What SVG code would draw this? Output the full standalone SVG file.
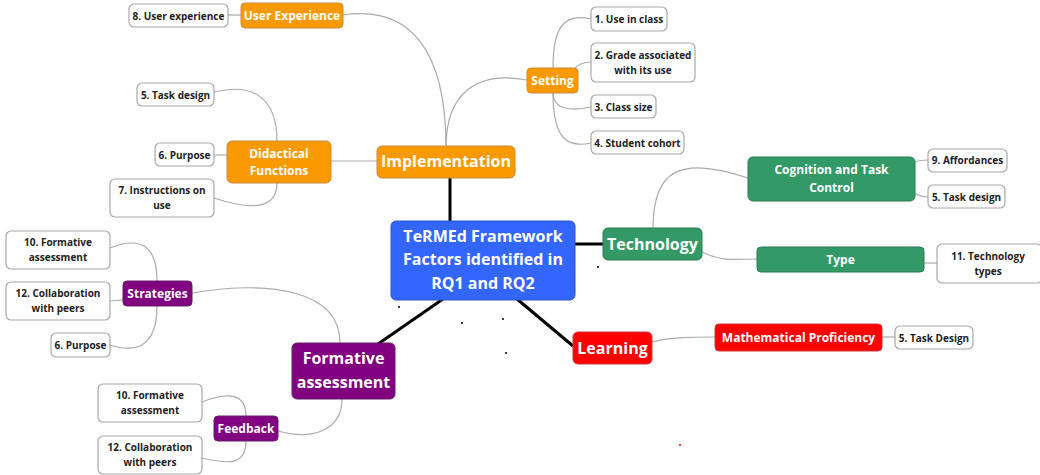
<svg xmlns="http://www.w3.org/2000/svg" width="1040" height="475" viewBox="0 0 1040 475">
<style>
text{font-family:"Open Sans","Noto Sans","DejaVu Sans",sans-serif;font-weight:bold;text-anchor:middle;dominant-baseline:central}
.leaf rect{fill:#fff;stroke:#a8a8a8;stroke-width:1.2}
.leaf text{fill:#222;font-size:10px}
.wt{fill:#fff}
.or{fill:#fa9a00;stroke:#c98a3a;stroke-width:1}
.gr{fill:#339966;stroke:#2a7d52;stroke-width:1}
.pu{fill:#800080;stroke:#6a1f6a;stroke-width:1}
.rd{fill:#ff0000;stroke:#c83a3a;stroke-width:1}
.bl{fill:#3366ff;stroke:#2d55c8;stroke-width:1}
.thin{fill:none;stroke:#ababab;stroke-width:1.2}
.thick{fill:none;stroke:#000;stroke-width:3}
</style>
<rect width="1040" height="475" fill="#fff"/>
<g id="connectors">
<path class="thick" d="M450,178 L450,221"/>
<path class="thick" d="M575,244 L603,244"/>
<path class="thick" d="M517,299 L573,346"/>
<path class="thick" d="M443,299 L378,344"/>
<path class="thin" d="M343,15 C410,5 446,50 446,147"/>
<path class="thin" d="M446,147 C446,95 475,70 527,80"/>
<path class="thin" d="M377,161 L331,161"/>
<path class="thin" d="M241,15 L228,15"/>
<path class="thin" d="M553,68 C553,30 562,12 591,19"/>
<path class="thin" d="M573,70 C578,64 583,62 591,62"/>
<path class="thin" d="M553,93 C553,108 568,112 591,107"/>
<path class="thin" d="M553,93 C553,140 568,148 591,143"/>
<path class="thin" d="M277,141 C277,100 255,82 214,92"/>
<path class="thin" d="M227,155 L214,155"/>
<path class="thin" d="M277,183 C277,210 250,210 214,198"/>
<path class="thin" d="M653,228 C653,170 680,155 748,178"/>
<path class="thin" d="M702,252 C722,262 735,259 757,259"/>
<path class="thin" d="M915,162 C920,160 923,160 928,160"/>
<path class="thin" d="M915,193 C920,196 923,197 928,197"/>
<path class="thin" d="M924,263 L937,263"/>
<path class="thin" d="M652,342 C672,337 690,337 715,337"/>
<path class="thin" d="M882,337 L895,337"/>
<path class="thin" d="M192,293 C270,280 340,290 340,343"/>
<path class="thin" d="M342,399 C342,432 310,440 278,431"/>
<path class="thin" d="M157,281 C157,245 140,236 110,248"/>
<path class="thin" d="M123,300 L110,301"/>
<path class="thin" d="M157,306 C157,348 135,353 110,345"/>
<path class="thin" d="M246,416 C246,393 228,392 202,402"/>
<path class="thin" d="M246,441 C246,466 228,464 202,458"/>
</g>
<g id="center"><rect class="bl" x="391" y="221" width="184" height="79" rx="5"/><text class="wt" x="483" y="236" font-size="16">TeRMEd Framework</text><text class="wt" x="483" y="259" font-size="16">Factors identified in</text><text class="wt" x="483" y="283" font-size="16">RQ1 and RQ2</text></g>
<g id="implementation"><rect class="or" x="377" y="146" width="138" height="32" rx="5"/><text class="wt" x="446" y="161" font-size="16">Implementation</text></g>
<g id="user-experience"><rect class="or" x="241" y="3" width="102" height="25" rx="4"/><text class="wt" x="292" y="15.5" font-size="12">User Experience</text></g>
<g id="ux8" class="leaf"><rect x="129" y="4" width="99" height="23" rx="5"/><text x="178.5" y="15.5">8. User experience</text></g>
<g id="didactical"><rect class="or" x="227" y="141" width="104" height="42" rx="5"/><text class="wt" x="279" y="153" font-size="12">Didactical</text><text class="wt" x="279" y="170" font-size="12">Functions</text></g>
<g id="d5" class="leaf"><rect x="137" y="83" width="77" height="23" rx="5"/><text x="175.5" y="94.5">5. Task design</text></g>
<g id="d6" class="leaf"><rect x="155" y="143" width="59" height="23" rx="5"/><text x="184.5" y="154.5">6. Purpose</text></g>
<g id="d7" class="leaf"><rect x="110" y="179" width="104" height="38" rx="5"/><text x="162" y="190">7. Instructions on</text><text x="162" y="205">use</text></g>
<g id="setting"><rect class="or" x="527" y="68" width="51" height="25" rx="4"/><text class="wt" x="552.5" y="80.5" font-size="12">Setting</text></g>
<g id="s1" class="leaf"><rect x="591" y="7" width="76" height="24" rx="5"/><text x="629" y="19">1. Use in class</text></g>
<g id="s2" class="leaf"><rect x="591" y="43" width="104" height="39" rx="5"/><text x="643" y="54.5">2. Grade associated</text><text x="643" y="70">with its use</text></g>
<g id="s3" class="leaf"><rect x="591" y="95" width="65" height="23" rx="5"/><text x="623.5" y="106.5">3. Class size</text></g>
<g id="s4" class="leaf"><rect x="591" y="131" width="93" height="23" rx="5"/><text x="637.5" y="142.5">4. Student cohort</text></g>
<g id="technology"><rect class="gr" x="603" y="228" width="99" height="32" rx="5"/><text class="wt" x="652.5" y="243.5" font-size="16">Technology</text></g>
<g id="cognition"><rect class="gr" x="748" y="157" width="167" height="44" rx="5"/><text class="wt" x="831.5" y="169.5" font-size="12">Cognition and Task</text><text class="wt" x="831.5" y="187" font-size="12">Control</text></g>
<g id="t9" class="leaf"><rect x="928" y="149" width="79" height="23" rx="5"/><text x="967.5" y="160">9. Affordances</text></g>
<g id="t5" class="leaf"><rect x="928" y="185" width="77" height="23" rx="5"/><text x="966.5" y="196.5">5. Task design</text></g>
<g id="type"><rect class="gr" x="757" y="247" width="167" height="25" rx="4"/><text class="wt" x="840.5" y="259" font-size="12">Type</text></g>
<g id="t11" class="leaf"><rect x="937" y="244" width="105" height="39" rx="5"/><text x="988" y="255.5">11. Technology</text><text x="988" y="270.5">types</text></g>
<g id="learning"><rect class="rd" x="573" y="332" width="79" height="32" rx="5"/><text class="wt" x="612.5" y="347.5" font-size="16">Learning</text></g>
<g id="math"><rect class="rd" x="715" y="324" width="167" height="27" rx="4"/><text class="wt" x="798.5" y="337" font-size="12">Mathematical Proficiency</text></g>
<g id="l5" class="leaf"><rect x="895" y="326" width="78" height="23" rx="5"/><text x="934" y="337.5">5. Task Design</text></g>
<g id="formative"><rect class="pu" x="292" y="343" width="103" height="56" rx="5"/><text class="wt" x="343.5" y="358" font-size="16">Formative</text><text class="wt" x="343.5" y="382" font-size="16">assessment</text></g>
<g id="strategies"><rect class="pu" x="123" y="281" width="69" height="25" rx="4"/><text class="wt" x="157.5" y="293" font-size="12">Strategies</text></g>
<g id="st10" class="leaf"><rect x="6" y="231" width="104" height="38" rx="5"/><text x="58" y="242">10. Formative</text><text x="58" y="257">assessment</text></g>
<g id="st12" class="leaf"><rect x="6" y="282" width="104" height="38" rx="5"/><text x="58" y="293">12. Collaboration</text><text x="58" y="308">with peers</text></g>
<g id="st6" class="leaf"><rect x="51" y="333" width="59" height="24" rx="5"/><text x="80.5" y="345">6. Purpose</text></g>
<g id="feedback"><rect class="pu" x="214" y="416" width="64" height="25" rx="4"/><text class="wt" x="246" y="428" font-size="12">Feedback</text></g>
<g id="fb10" class="leaf"><rect x="98" y="384" width="104" height="38" rx="5"/><text x="150" y="395">10. Formative</text><text x="150" y="410">assessment</text></g>
<g id="fb12" class="leaf"><rect x="98" y="436" width="104" height="38" rx="5"/><text x="150" y="447">12. Collaboration</text><text x="150" y="462">with peers</text></g>
<g id="dots" fill="#000"><circle cx="598" cy="267" r="1"/><circle cx="399" cy="307" r="1"/><circle cx="462" cy="323" r="1"/><circle cx="503" cy="319" r="1"/><circle cx="506" cy="353" r="1"/><circle cx="680" cy="445" r="1" fill="#f00"/></g>
</svg>
